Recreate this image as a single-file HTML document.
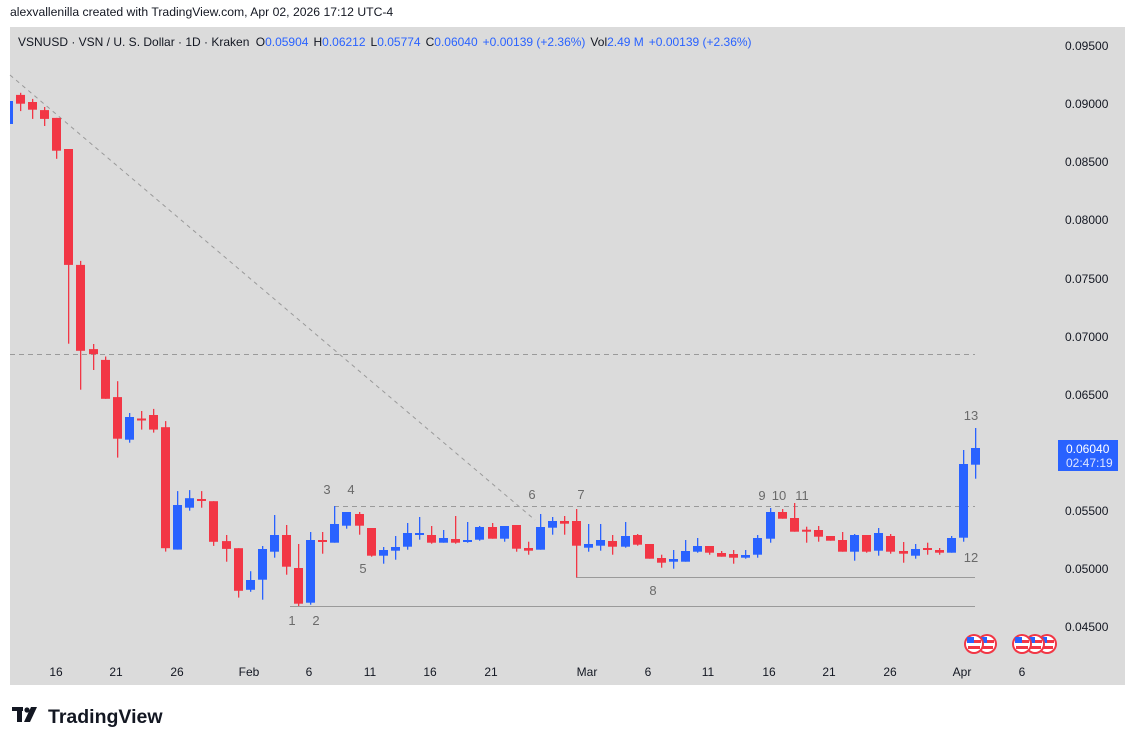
<!DOCTYPE html>
<html><head><meta charset="utf-8"><style>
html,body{margin:0;padding:0;background:#fff;width:1135px;height:745px;overflow:hidden;font-family:"Liberation Sans","DejaVu Sans",sans-serif}
</style></head><body>
<svg id="s" width="1135" height="745" xmlns="http://www.w3.org/2000/svg" font-family="Liberation Sans, DejaVu Sans, sans-serif">
<rect x="0" y="0" width="1135" height="745" fill="#fff"/>
<text x="10" y="16" font-size="12.2" fill="#131722">alexvallenilla created with TradingView.com, Apr 02, 2026 17:12 UTC-4</text>
<rect x="10" y="27" width="1115" height="658" fill="#dbdbdb"/>
<text x="18" y="46" font-size="12" fill="#131722">VSNUSD · VSN / U. S. Dollar · 1D · Kraken <tspan dx="3">O</tspan><tspan fill="#2962ff">0.05904</tspan><tspan dx="5">H</tspan><tspan fill="#2962ff">0.06212</tspan><tspan dx="5">L</tspan><tspan fill="#2962ff">0.05774</tspan><tspan dx="5">C</tspan><tspan fill="#2962ff">0.06040</tspan><tspan dx="5" fill="#2962ff">+0.00139 (+2.36%)</tspan><tspan dx="5">Vol</tspan><tspan fill="#2962ff">2.49 M</tspan><tspan dx="5" fill="#2962ff">+0.00139 (+2.36%)</tspan></text>
<g font-size="12" fill="#131722">
<text x="1065" y="50">0.09500</text><text x="1065" y="108">0.09000</text><text x="1065" y="166">0.08500</text><text x="1065" y="224">0.08000</text><text x="1065" y="283">0.07500</text><text x="1065" y="341">0.07000</text><text x="1065" y="399">0.06500</text><text x="1065" y="515">0.05500</text><text x="1065" y="573">0.05000</text><text x="1065" y="631">0.04500</text>
</g>
<rect x="1058" y="440" width="60" height="31" fill="#2962ff"/>
<text x="1066" y="453" font-size="12" fill="#fff">0.06040</text>
<text x="1066" y="467" font-size="12" fill="#dfe6ff">02:47:19</text>
<g font-size="12" fill="#131722" text-anchor="middle">
<text x="56" y="676">16</text><text x="116" y="676">21</text><text x="177" y="676">26</text><text x="249" y="676">Feb</text><text x="309" y="676">6</text><text x="370" y="676">11</text><text x="430" y="676">16</text><text x="491" y="676">21</text><text x="587" y="676">Mar</text><text x="648" y="676">6</text><text x="708" y="676">11</text><text x="769" y="676">16</text><text x="829" y="676">21</text><text x="890" y="676">26</text><text x="962" y="676">Apr</text><text x="1022" y="676">6</text>
</g>
<line x1="10" y1="75" x2="535" y2="520" stroke="#9a9a9a" stroke-width="1" stroke-dasharray="4,4"/>
<line x1="10" y1="354.5" x2="975" y2="354.5" stroke="#9a9a9a" stroke-width="1" stroke-dasharray="5,4"/>
<line x1="334" y1="506.5" x2="975" y2="506.5" stroke="#9a9a9a" stroke-width="1" stroke-dasharray="5,4"/>
<line x1="290" y1="606.5" x2="975" y2="606.5" stroke="#9a9a9a" stroke-width="1"/>
<line x1="576" y1="577.5" x2="975" y2="577.5" stroke="#9a9a9a" stroke-width="1"/>
<g id="c"></g>
<rect x="10" y="101" width="3" height="23" fill="#2962ff"/>
<g font-size="13" fill="#6a6a6a" text-anchor="middle">
<text x="292" y="625">1</text><text x="316" y="625">2</text><text x="327" y="494">3</text><text x="351" y="494">4</text><text x="363" y="573">5</text><text x="532" y="499">6</text><text x="581" y="499">7</text><text x="653" y="595">8</text><text x="762" y="500">9</text><text x="779" y="500">10</text><text x="802" y="500">11</text><text x="971" y="562">12</text><text x="971" y="420">13</text>
</g>
<g id="f"></g>
<g fill="#131722">
<rect x="12" y="707" width="11" height="4"/><rect x="17" y="707" width="5" height="15"/>
<circle cx="27" cy="710" r="2.6"/>
<polygon points="31,707 37,707 30,722 24,722"/>
</g>
<text x="48" y="723" font-size="19.5" font-weight="bold" fill="#131722">TradingView</text>
</svg>
<script>
var d=[
[1,'r',94.9,103.7,92.8,111.1],[2,'r',102,109.7,98.9,118.9],[3,'r',110.1,118.9,107,126],[4,'r',117.9,150.7,117.9,158.8],[5,'r',149,264.9,149,343.7],[6,'r',264.9,350.8,260.9,389.7],[7,'r',349.1,354.2,344,370],[8,'r',359.9,398.8,356.5,398.8],[9,'r',397.1,438.7,381.2,457.6],[10,'b',417,439.7,413,442.7],[11,'r',418.5,420,411,429.6],[12,'r',415,429.6,408.9,432.6],[13,'r',427.2,548.2,421.1,551.6],[14,'b',505,549.6,491.1,549.6],[15,'b',498.2,507.7,490.1,510.7],[16,'r',499,501,491.1,507.7],[17,'r',501.2,541.8,501.2,545.9],[18,'r',541.1,548.9,535,561.7],[19,'r',548.2,590.8,548.2,597.6],[20,'b',580,589.8,571.2,591.8],[21,'b',549,579.7,546,599.7],[22,'b',535,551.7,515,557.7],[23,'r',535,566.7,525,574.7],[24,'r',568,603.7,544,606],[25,'b',540,602.7,532,604.7],[26,'r',540,541.7,532,553.7],[27,'b',524,542.7,506,542.7],[28,'b',512,525.7,512,528.7],[29,'r',514,525.7,512,534.7],[30,'r',528,555.7,528,556.7],[31,'b',550,555.7,547,563.7],[32,'b',547,550.7,536,559.7],[33,'b',533,546.7,523,549.7],[34,'b',533,535,517,539.7],[35,'r',535,542.7,526,543.7],[36,'b',538,542.7,530,542.7],[37,'r',539,542.7,516,543.7],[38,'b',540,541.7,522,542.7],[39,'b',527,539.7,526,540.7],[40,'r',527,538.7,523,538.7],[41,'b',526,538.7,526,541.7],[42,'r',525,548.7,525,551.7],[43,'r',548,550.7,541.7,554.7],[44,'b',527,549.7,514,549.7],[45,'b',521,527.7,517,534.7],[46,'r',521,523.7,516,534.7],[47,'r',521,545.7,509,577.3],[48,'b',544,547.7,524,551.7],[49,'b',540,545.7,524,550.7],[50,'r',541,546.7,535,554.7],[51,'b',536,546.7,522,547.7],[52,'r',535,544.7,534,545.7],[53,'r',544,558.7,544,558.7],[54,'r',558,562.7,554.7,567.7],[55,'b',559,561.7,550,568.7],[56,'b',551,561.7,540,561.7],[57,'b',546,551.7,538,552.7],[58,'r',546,552.7,546,554.7],[59,'r',553,556.7,551,556.7],[60,'r',554,557.7,550,563.7],[61,'b',555,557.7,550,558.7],[62,'b',538,554.7,535,557.7],[63,'b',512,538.7,508,542.7],[64,'r',512,518.7,509,518.7],[65,'r',518,531.7,503,531.7],[66,'r',529.7,531.7,526.7,542.7],[67,'r',530,536.7,526,541.7],[68,'r',536,540.7,536,540.7],[69,'r',540,551.7,532,551.7],[70,'b',535,551.7,534,560.7],[71,'r',535,551.7,535,552.7],[72,'b',533,550.7,528,555.7],[73,'r',536,551.7,534,553.7],[74,'r',551,553.7,542,562.7],[75,'b',549,555.7,544,558.7],[76,'r',548,549.7,542.7,554.7],[77,'r',550,552.7,548,554.7],[78,'b',538,552.7,536,552.7],[79,'b',464,537.7,450,541.7],[80,'b',448,464.7,428,478.7]];
var g=document.getElementById('c'),h='';
d.forEach(function(c){var x=Math.round(20+12.09*(c[0]-1));var col=c[1]=='r'?'#f23645':'#2962ff';
var bh=Math.max(c[3]-c[2],2);
h+='<rect x="'+x+'" y="'+c[4]+'" width="1.3" height="'+(c[5]-c[4])+'" fill="'+col+'"/>';
h+='<rect x="'+(x-4)+'" y="'+c[2]+'" width="9" height="'+bh+'" fill="'+col+'"/>';});
g.innerHTML=h;
var f=document.getElementById('f'),fh='';
[987,974,1047,1035,1022].forEach(function(x){
fh+='<circle cx="'+x+'" cy="644" r="10" fill="#f23645"/><circle cx="'+x+'" cy="644" r="8" fill="#fff"/><rect x="'+(x-7)+'" y="640" width="14" height="3" fill="#f23645"/><rect x="'+(x-6)+'" y="646" width="12" height="3" fill="#f23645"/><rect x="'+(x-7)+'" y="637" width="7" height="6" fill="#2962ff"/>';});
f.innerHTML=fh;
</script>
</body></html>
